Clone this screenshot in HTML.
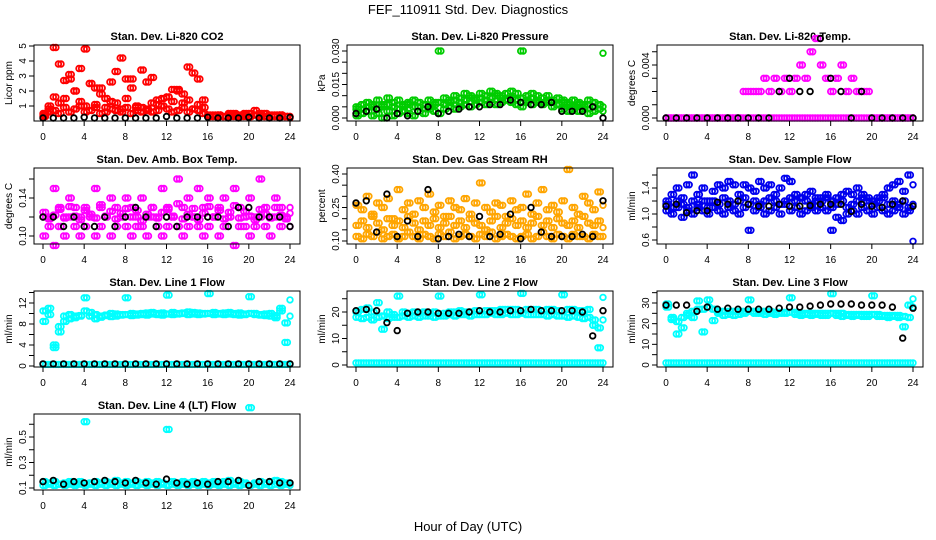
<!DOCTYPE html>
<html><head><meta charset="utf-8">
<style>
html,body{margin:0;padding:0;background:#fff;}
svg{display:block;font-family:"Liberation Sans",sans-serif;}
</style></head>
<body>
<svg id="chart" width="936" height="540" viewBox="0 0 936 540" xmlns="http://www.w3.org/2000/svg">
<rect width="936" height="540" fill="#fff"/>
<text x="468" y="14" text-anchor="middle" font-size="13">FEF_110911  Std. Dev. Diagnostics</text>
<text x="468" y="531" text-anchor="middle" font-size="13">Hour of Day (UTC)</text>
</svg>
<script>
// ---- data (half-hourly colored samples = 49 values, hourly black = 25 values) ----
const xTicks = [0,4,8,12,16,20,24];

const co2RedA = [0.3,0.8,1.6,1.2,1.5,2.8,2.0,1.3,1.0,2.5,1.1,2.2,0.9,1.3,1.2,0.8,1.5,2.8,1.0,0.9,0.7,1.2,1.4,1.0,1.6,1.3,2.1,1.2,1.4,0.8,1.1,0.9,0.3,0.4,0.4,0.3,0.5,0.4,0.3,0.4,0.5,0.7,0.4,0.5,0.4,0.3,0.4,0.3,0.3];
const co2RedB = [0.5,1.0,4.9,3.8,2.7,3.1,2.0,3.5,4.8,2.5,2.2,1.8,1.5,2.6,3.3,4.2,2.8,2.2,0.9,3.4,2.6,2.9,1.1,1.5,1.6,2.1,2.0,1.8,3.6,3.2,2.8,1.4,0.4,0.3,0.4,0.3,0.3,0.5,0.4,0.5,0.3,0.4,0.5,0.3,0.3,0.4,0.4,0.3,0.3];
const co2RedC = [0.4,0.6,0.7,0.5,0.9,0.6,0.8,1.0,0.6,0.7,0.9,0.5,0.6,0.8,0.7,0.6,0.9,0.5,0.7,0.6,0.8,0.6,0.7,1.0,0.8,0.6,0.7,0.9,0.6,0.8,0.7,0.5,0.3,0.3,0.3,0.3,0.4,0.3,0.3,0.3,0.3,0.4,0.3,0.3,0.3,0.3,0.3,0.3,0.2];
const co2Black = [0.2,0.2,0.2,0.2,0.25,0.2,0.2,0.2,0.2,0.2,0.2,0.2,0.3,0.2,0.2,0.2,0.25,0.2,0.2,0.2,0.25,0.2,0.2,0.2,0.25];

const presA = [0.004,0.006,0.007,0.005,0.008,0.006,0.009,0.007,0.008,0.006,0.007,0.008,0.007,0.006,0.008,0.007,0.030,0.009,0.008,0.010,0.009,0.011,0.010,0.009,0.011,0.010,0.012,0.011,0.010,0.011,0.012,0.011,0.030,0.010,0.011,0.010,0.009,0.010,0.008,0.009,0.008,0.007,0.008,0.007,0.006,0.008,0.007,0.006,0.029];
const presB = [0.001,0.002,0.003,0.001,0.002,0.000,0.003,0.001,0.002,0.003,0.002,0.001,0.003,0.002,0.004,0.003,0.002,0.004,0.005,0.004,0.005,0.006,0.005,0.006,0.007,0.006,0.007,0.006,0.007,0.008,0.007,0.006,0.005,0.007,0.006,0.007,0.006,0.007,0.005,0.006,0.004,0.003,0.004,0.003,0.004,0.002,0.003,0.004,0.003];
const presC = [0.005,0.004,0.005,0.006,0.004,0.005,0.006,0.005,0.004,0.005,0.006,0.005,0.005,0.006,0.005,0.006,0.007,0.006,0.007,0.008,0.007,0.008,0.009,0.008,0.009,0.008,0.009,0.010,0.009,0.008,0.009,0.008,0.009,0.008,0.009,0.008,0.007,0.008,0.007,0.006,0.007,0.006,0.005,0.006,0.005,0.006,0.005,0.006,0.005];
const presBlack = [0.002,0.003,0.004,0.000,0.002,0.001,0.003,0.005,0.002,0.003,0.004,0.005,0.005,0.006,0.006,0.008,0.007,0.006,0.006,0.007,0.003,0.003,0.003,0.005,0.000];

const tempA = [0,0,0,0,0,0,0,0,0,0,0,0,0,0,0,0,0,0,0,0,0,0,0,0,0,0,0,0,0,0,0,0,0,0,0,0,0,0,0,0,0,0,0,0,0,0,0,0,0];
const tempB = [0,0,0,0,0,0,0,0,0,0,0,0,0,0,0,0.002,0.002,0.002,0.002,0.003,0.002,0.003,0.002,0.003,0.002,0.003,0.004,0.003,0.005,0.006,0.004,0.003,0.002,0.003,0.004,0.002,0.003,0.002,0.002,0.002,0,0,0,0,0,0,0,0,0];
const tempBlack = [0,0,0,0,0,0,0,0,0,0,0,0.002,0.003,0.002,0.002,0.006,0.003,0.002,0,0.002,0,0,0,0,0];

const ambA = [0.12,0.11,0.15,0.13,0.12,0.14,0.11,0.12,0.13,0.12,0.15,0.13,0.12,0.14,0.13,0.12,0.14,0.13,0.11,0.14,0.12,0.13,0.12,0.15,0.13,0.12,0.16,0.13,0.14,0.12,0.15,0.13,0.14,0.12,0.13,0.14,0.12,0.15,0.13,0.11,0.14,0.12,0.16,0.13,0.12,0.14,0.13,0.12,0.13];
const ambB = [0.10,0.12,0.09,0.11,0.10,0.12,0.13,0.10,0.11,0.12,0.10,0.11,0.12,0.10,0.11,0.12,0.11,0.10,0.12,0.11,0.10,0.12,0.11,0.10,0.11,0.12,0.11,0.10,0.11,0.12,0.11,0.10,0.11,0.12,0.10,0.11,0.12,0.09,0.11,0.12,0.10,0.11,0.12,0.11,0.10,0.12,0.11,0.12,0.11];
const ambC = [0.125,0.118,0.122,0.128,0.119,0.131,0.121,0.117,0.127,0.123,0.119,0.133,0.121,0.126,0.118,0.124,0.129,0.12,0.127,0.116,0.123,0.13,0.119,0.125,0.128,0.121,0.134,0.118,0.123,0.129,0.117,0.124,0.131,0.12,0.127,0.118,0.125,0.132,0.119,0.126,0.121,0.117,0.128,0.123,0.119,0.13,0.122,0.118,0.124];
const ambBlack = [0.12,0.12,0.11,0.12,0.11,0.11,0.12,0.11,0.12,0.13,0.12,0.11,0.12,0.11,0.12,0.12,0.12,0.12,0.11,0.13,0.13,0.12,0.12,0.12,0.11];

const rhLow = [0.12,0.11,0.13,0.12,0.14,0.11,0.12,0.13,0.11,0.12,0.14,0.12,0.11,0.13,0.12,0.11,0.13,0.12,0.14,0.11,0.12,0.13,0.12,0.11,0.13,0.12,0.14,0.11,0.12,0.13,0.12,0.11,0.12,0.13,0.11,0.12,0.14,0.12,0.11,0.13,0.12,0.11,0.13,0.12,0.12,0.11,0.13,0.12,0.12];
const rhHigh = [0.26,0.24,0.30,0.22,0.27,0.25,0.29,0.20,0.33,0.24,0.27,0.22,0.28,0.25,0.31,0.23,0.26,0.21,0.28,0.25,0.24,0.29,0.22,0.27,0.36,0.25,0.23,0.27,0.26,0.21,0.28,0.24,0.25,0.31,0.22,0.27,0.33,0.24,0.26,0.23,0.28,0.42,0.25,0.22,0.30,0.27,0.24,0.32,0.26];
const rhMid = [0.17,0.19,0.16,0.21,0.18,0.15,0.20,0.17,0.19,0.16,0.21,0.18,0.15,0.19,0.17,0.20,0.16,0.18,0.21,0.17,0.19,0.16,0.20,0.18,0.17,0.15,0.19,0.21,0.16,0.18,0.20,0.17,0.19,0.16,0.18,0.21,0.17,0.19,0.16,0.20,0.18,0.17,0.19,0.16,0.21,0.18,0.17,0.19,0.16];
const rhBlack = [0.27,0.28,0.14,0.31,0.12,0.19,0.12,0.33,0.11,0.12,0.13,0.12,0.21,0.12,0.13,0.22,0.11,0.25,0.14,0.12,0.12,0.12,0.13,0.12,0.28];

const sfA = [1.05,1.0,1.1,0.95,1.05,1.0,1.1,1.05,1.0,1.1,1.05,1.0,1.1,1.05,1.0,1.1,0.75,1.05,1.1,1.0,1.05,1.1,1.0,1.15,1.05,1.1,1.0,1.05,1.1,1.05,1.1,1.05,0.75,0.95,0.9,1.0,1.05,1.0,1.1,1.05,1.0,1.1,1.05,1.0,1.05,1.1,1.0,1.05,0.58];
const sfB = [1.2,1.3,1.4,1.25,1.45,1.6,1.3,1.4,1.2,1.35,1.45,1.4,1.5,1.45,1.3,1.45,1.4,1.35,1.5,1.4,1.45,1.3,1.4,1.55,1.5,1.3,1.25,1.3,1.35,1.2,1.25,1.3,1.1,1.25,1.3,1.35,1.3,1.4,1.3,1.25,1.2,1.25,1.3,1.4,1.45,1.5,1.35,1.6,1.45];
const sfC = [1.15,1.1,1.2,1.15,1.1,1.2,1.15,1.2,1.1,1.2,1.15,1.25,1.2,1.15,1.2,1.25,1.15,1.2,1.15,1.2,1.25,1.2,1.15,1.2,1.25,1.2,1.25,1.2,1.15,1.25,1.2,1.25,1.2,1.15,1.2,1.1,1.15,1.2,1.25,1.2,1.15,1.2,1.25,1.15,1.2,1.15,1.2,1.1,1.15];
const sfBlack = [1.12,1.15,1.02,1.05,1.05,1.18,1.15,1.2,1.15,1.12,1.12,1.15,1.12,1.12,1.13,1.15,1.15,1.15,1.04,1.15,1.12,1.1,1.15,1.2,1.12];

const l1A = [10.5,11,4,7.5,9.5,9.8,9.5,9.6,13,10.2,9.8,9.5,9.7,10,9.9,9.8,13,10,9.9,10,10.1,10.2,10,10.1,13.5,10.2,10,10.1,10.3,10.2,10.1,10,13.8,10.2,10,10.1,10.2,10,10.1,9.9,13.2,10,9.8,9.9,10,9.6,10.5,4.5,12.6];
const l1B = [8.5,9.8,3.5,6.5,8.5,9,9.2,9.5,10.5,9.5,9,9.3,9.6,9.4,9.5,9.7,9.8,9.6,9.7,9.8,9.7,9.9,9.8,9.7,9.9,9.8,9.9,10,9.8,9.9,9.8,9.9,10,9.8,9.9,9.8,9.9,9.8,9.7,9.8,10,9.8,9.7,9.6,9.5,9.2,11,8.2,9.5];
const l1Base = [0.3,0.3,0.3,0.3,0.3,0.3,0.3,0.3,0.3,0.3,0.3,0.3,0.3,0.3,0.3,0.3,0.3,0.3,0.3,0.3,0.3,0.3,0.3,0.3,0.3,0.3,0.3,0.3,0.3,0.3,0.3,0.3,0.3,0.3,0.3,0.3,0.3,0.3,0.3,0.3,0.3,0.3,0.3,0.3,0.3,0.3,0.3,0.3,0.3];
const l1Black = [0.4,0.4,0.4,0.4,0.4,0.4,0.4,0.4,0.4,0.4,0.4,0.4,0.4,0.4,0.4,0.4,0.4,0.4,0.4,0.4,0.4,0.4,0.4,0.4,0.4];

const l2A = [20,21,21.5,20,23.5,13.5,20,19,26,20,19.5,20,19.5,20,19.5,20,26,19.5,20,20,20.5,20,20,20.5,26.5,20.5,20.5,20.5,21,21,21,21,27,21,21,21,20.5,21,21,20.5,26.5,21,21,20.5,20.5,21,15,6.5,25.5];
const l2B = [18,17.5,18,17,18,18.5,17.5,18,18,18.5,18,18.5,18,18.5,18.5,18,18.5,18.5,19,18.5,19,19,18.5,19,19,19,19.5,19,19,19.5,19,19,19.5,19,19,19,19,18.5,19,18.5,18.5,18,18.5,18,17.5,18,17,14,17];
const l2Base = [0.8,0.8,0.8,0.8,0.8,0.8,0.8,0.8,0.8,0.8,0.8,0.8,0.8,0.8,0.8,0.8,0.8,0.8,0.8,0.8,0.8,0.8,0.8,0.8,0.8,0.8,0.8,0.8,0.8,0.8,0.8,0.8,0.8,0.8,0.8,0.8,0.8,0.8,0.8,0.8,0.8,0.8,0.8,0.8,0.8,0.8,0.8,0.8,0.8];
const l2Black = [20.5,21,20.5,16,13,19.5,20,20,19.5,19.5,19.5,20,20.5,20,20,20.5,20.5,21,20.5,20.5,20.5,20.5,20,11,20.5];

const l3A = [29.5,22,15,18,24,23,31,16,31.5,21.5,25,24,24.5,24,24.5,25,31.5,25,25,24.5,25,24.5,25,25,32.5,24.5,24,24.5,24,24.5,24,24,34.5,24,23.5,24,23.5,24,23.5,23.5,33.5,23.5,23.5,23,23.5,23,18.5,23,32];
const l3B = [28,23,21,23,25,26,27,27,28,27,26,26,26,26,26,26,26,26,26,26,26,25.5,25.5,25.5,25.5,25.5,25,25,25,25,25,25,25,25,25,24.5,24.5,24.5,24.5,24.5,24.5,24.5,24,24,24,24,23.5,29,28];
const l3Base = [1,1,1,1,1,1,1,1,1,1,1,1,1,1,1,1,1,1,1,1,1,1,1,1,1,1,1,1,1,1,1,1,1,1,1,1,1,1,1,1,1,1,1,1,1,1,1,1,1];
const l3Black = [29,29,29,26,28,27,27.5,27,27,27,27,27.5,28,28,28.5,29,29.5,29.5,29.5,29,29,29,28,13,27.5];

const l4A = [0.15,0.14,0.15,0.13,0.14,0.15,0.14,0.15,0.62,0.14,0.15,0.14,0.15,0.14,0.16,0.14,0.15,0.14,0.15,0.14,0.15,0.14,0.15,0.14,0.56,0.15,0.14,0.15,0.14,0.15,0.14,0.15,0.14,0.15,0.14,0.15,0.16,0.14,0.15,0.14,0.73,0.14,0.15,0.14,0.15,0.16,0.15,0.14,0.14];
const l4B = [0.12,0.13,0.12,0.13,0.12,0.13,0.12,0.13,0.12,0.13,0.12,0.13,0.12,0.13,0.12,0.13,0.12,0.13,0.12,0.13,0.12,0.13,0.12,0.13,0.12,0.13,0.12,0.13,0.12,0.13,0.12,0.13,0.12,0.13,0.12,0.13,0.12,0.13,0.12,0.13,0.12,0.13,0.12,0.13,0.12,0.13,0.12,0.13,0.12];
const l4Black = [0.15,0.16,0.13,0.15,0.14,0.15,0.16,0.15,0.14,0.16,0.14,0.13,0.17,0.14,0.13,0.14,0.13,0.15,0.15,0.16,0.12,0.15,0.15,0.14,0.14];

// tick values
const yTicksCo2 = [1,2,3,4,5];            const yLabCo2 = ["1","2","3","4","5"];
const yTicksPres = [0,0.005,0.01,0.015,0.02,0.025,0.03]; const yLabPres = ["0.000","","","0.015","","","0.030"];
const yTicksTemp = [0,0.001,0.002,0.003,0.004,0.005]; const yLabTemp = ["0.000","","","","0.004",""];
const yTicksAmb = [0.10,0.12,0.14,0.16]; const yLabAmb = ["0.10","","0.14",""];
const yTicksRh = [0.10,0.15,0.20,0.25,0.30,0.35,0.40]; const yLabRh = ["0.10","","","0.25","","","0.40"];
const yTicksSf = [0.6,0.8,1.0,1.2,1.4,1.6]; const yLabSf = ["0.6","","1.0","","1.4",""];
const yTicksL1 = [0,2,4,6,8,10,12,14]; const yLabL1 = ["0","","4","","8","","12",""];
const yTicksL2 = [0,5,10,15,20,25]; const yLabL2 = ["0","","10","","20",""];
const yTicksL3 = [0,5,10,15,20,25,30,35]; const yLabL3 = ["0","","10","","20","","30",""];
const yTicksL4 = [0.1,0.2,0.3,0.4,0.5,0.6,0.7]; const yLabL4 = ["0.1","","0.3","","0.5","",""];

const panels = [
 {name:"co2",title:"Stan. Dev. Li-820 CO2",ylab:"Licor ppm",col:0,row:0,v:[5,1],p:[1,61],ticks:yTicksCo2,labs:yLabCo2,
  series:[[co2RedC,"#ff0000"],[co2RedA,"#ff0000"],[co2RedB,"#ff0000"],[co2Black,"#000"]]},
 {name:"pressure",title:"Stan. Dev. Li-820 Pressure",ylab:"kPa",col:1,row:0,v:[0,0.03],p:[73,6],ticks:yTicksPres,labs:yLabPres,
  series:[[presA,"#00cc00"],[presB,"#00cc00"],[presC,"#00cc00"],[presBlack,"#000"]]},
 {name:"temp",title:"Stan. Dev. Li-820 Temp.",ylab:"degrees C",col:2,row:0,v:[0,0.004],p:[73,20],ticks:yTicksTemp,labs:yLabTemp,
  series:[[tempA,"#ff00ff"],[tempB,"#ff00ff"],[tempBlack,"#000"]]},
 {name:"amb-box-temp",title:"Stan. Dev. Amb. Box Temp.",ylab:"degrees C",col:0,row:1,v:[0.10,0.14],p:[68,30],ticks:yTicksAmb,labs:yLabAmb,
  series:[[ambA,"#ff00ff"],[ambB,"#ff00ff"],[ambC,"#ff00ff"],[ambBlack,"#000"]]},
 {name:"gas-rh",title:"Stan. Dev. Gas Stream RH",ylab:"percent",col:1,row:1,v:[0.10,0.40],p:[73,6],ticks:yTicksRh,labs:yLabRh,
  series:[[rhLow,"#ffa500"],[rhMid,"#ffa500"],[rhHigh,"#ffa500"],[rhBlack,"#000"]]},
 {name:"sample-flow",title:"Stan. Dev. Sample Flow",ylab:"ml/min",col:2,row:1,v:[0.6,1.4],p:[72,20],ticks:yTicksSf,labs:yLabSf,
  series:[[sfA,"#0000ee"],[sfB,"#0000ee"],[sfC,"#0000ee"],[sfBlack,"#000"]]},
 {name:"line1",title:"Stan. Dev. Line 1 Flow",ylab:"ml/min",col:0,row:2,v:[0,12],p:[75,12],ticks:yTicksL1,labs:yLabL1,
  series:[[l1Base,"#00ffff"],[l1A,"#00ffff"],[l1B,"#00ffff"],[l1Black,"#000"]]},
 {name:"line2",title:"Stan. Dev. Line 2 Flow",ylab:"ml/min",col:1,row:2,v:[0,20],p:[74,21],ticks:yTicksL2,labs:yLabL2,
  series:[[l2Base,"#00ffff"],[l2B,"#00ffff"],[l2A,"#00ffff"],[l2Black,"#000"]]},
 {name:"line3",title:"Stan. Dev. Line 3 Flow",ylab:"ml/min",col:2,row:2,v:[0,30],p:[74,12],ticks:yTicksL3,labs:yLabL3,
  series:[[l3Base,"#00ffff"],[l3B,"#00ffff"],[l3A,"#00ffff"],[l3Black,"#000"]]},
 {name:"line4",title:"Stan. Dev. Line 4 (LT) Flow",ylab:"ml/min",col:0,row:3,v:[0.1,0.5],p:[74,23],ticks:yTicksL4,labs:yLabL4,
  series:[[l4B,"#00ffff"],[l4A,"#00ffff"],[l4Black,"#000"]]}
];

const NS = "http://www.w3.org/2000/svg";
const svg = document.getElementById("chart");
const colL = [34,347,657], rowT = [45,168,291,414], BW = 266, BH = 76;
function mk(tag, attrs, parent){const e=document.createElementNS(NS,tag);for(const k in attrs)e.setAttribute(k,attrs[k]);parent.appendChild(e);return e;}

panels.forEach(pn=>{
  const L=colL[pn.col], T=rowT[pn.row];
  const g = mk("g",{},svg);
  
  
  const xs = h => L+9+h*(247/24);
  const ys = v => T+pn.p[0]+(v-pn.v[0])*(pn.p[1]-pn.p[0])/(pn.v[1]-pn.v[0]);
  const t = mk("text",{x:L+BW/2,y:T-5,"text-anchor":"middle","font-size":"11","font-weight":"bold"},g);
  t.textContent = pn.title;
  
  
  const yl = mk("text",{x:0,y:0,"text-anchor":"middle","font-size":"10",transform:`translate(${L-22},${T+BH/2}) rotate(-90)`},g);
  yl.textContent = pn.ylab;
  
  
  // points (colored samples drawn as pairs of markers spanning each half-hour bin)
  pn.series.forEach((s,si)=>{
    const vals=s[0], n=vals.length, colored = s[1] !== "#000";
    const step = 24/(n-1);
    vals.forEach((v,i)=>{
      const hs = colored && i<n-1 ? [i*step, i*step+step/2] : [i*step];
      hs.forEach(h=>{
        const c = mk("circle",{cx:xs(h).toFixed(1),cy:ys(v).toFixed(1),r:2.8,fill:"none",stroke:s[1],"stroke-width":"1.8"},g);
        
        
      });
    });
  });
  // box
  const b = mk("rect",{x:L,y:T,width:BW,height:BH,fill:"none",stroke:"#000","stroke-width":"1"},g);
  
  
  // x ticks
  xTicks.forEach(h=>{
    const x=xs(h);
    mk("line",{x1:x,y1:T+BH,x2:x,y2:T+BH+5,stroke:"#000"},g);
    const tx = mk("text",{x:x,y:T+BH+19,"text-anchor":"middle","font-size":"10"},g);
    tx.textContent = String(h);
    
    
  });
  // y ticks
  pn.ticks.forEach((v,i)=>{
    const y=ys(v);
    if(y<T-0.5||y>T+BH+0.5) return;
    mk("line",{x1:L-5,y1:y,x2:L,y2:y,stroke:"#000"},g);
    if(pn.labs[i]){
      const ty = mk("text",{x:0,y:0,"text-anchor":"middle","font-size":"10",transform:`translate(${L-8},${y}) rotate(-90)`},g);
      ty.textContent = pn.labs[i];
      
      
    }
  });
});
</script>
</body></html>
